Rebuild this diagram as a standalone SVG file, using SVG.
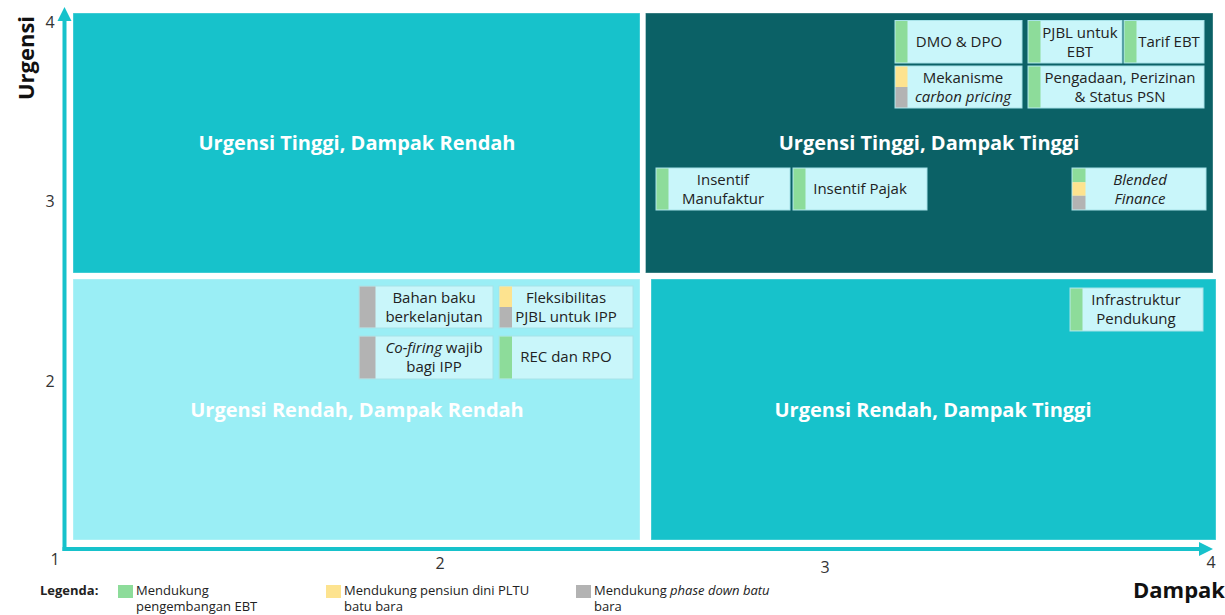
<svg xmlns="http://www.w3.org/2000/svg" width="1225" height="615" viewBox="0 0 1225 615">
<style>
text{font-family:"Open Sans","Noto Sans",sans-serif;}
.q{stroke:#ffffff;stroke-opacity:0.35;stroke-width:1}
.ql{font-weight:bold;font-size:20px;fill:#ffffff;text-anchor:middle}
.box{fill:#c9f6fa;stroke:#a6e2e8;stroke-width:1}
.t{font-size:15px;fill:#222;text-anchor:middle}
.g{fill:#8ddc9a}.y{fill:#fde38f}.k{fill:#b3b3b3}
.tick{font-size:16px;fill:#333;text-anchor:middle}
.ax{font-weight:bold;font-size:22px;fill:#111}
.lg{font-size:13px;fill:#222}
</style>
<rect width="1225" height="615" fill="#ffffff"/>
<g id="quadrant-tl"><rect class="q" x="73" y="13" width="567" height="260" fill="#17c2cb"/><text class="ql" x="357" y="150">Urgensi Tinggi, Dampak Rendah</text></g>
<g id="quadrant-tr"><rect class="q" x="645.5" y="13" width="567.5" height="260" fill="#0b6166"/><text class="ql" x="929" y="150">Urgensi Tinggi, Dampak Tinggi</text></g>
<g id="quadrant-bl"><rect class="q" x="73" y="279" width="567" height="261" fill="#9aeef5"/><text class="ql" x="357" y="417">Urgensi Rendah, Dampak Rendah</text></g>
<g id="quadrant-br"><rect class="q" x="651" y="279" width="565" height="261" fill="#17c2cb"/><text class="ql" x="933" y="417">Urgensi Rendah, Dampak Tinggi</text></g>

<g id="dmo"><rect class="box" x="895" y="20.5" width="127" height="42.5"/><rect class="g" x="895.5" y="21" width="12" height="41.5"/><text class="t" x="959" y="47">DMO &amp; DPO</text></g>
<g id="pjbl-ebt"><rect class="box" x="1028" y="20.5" width="94" height="42.5"/><rect class="g" x="1028.5" y="21" width="12" height="41.5"/><text class="t" x="1080" y="38">PJBL untuk</text><text class="t" x="1080" y="57">EBT</text></g>
<g id="tarif"><rect class="box" x="1124" y="20.5" width="80" height="42.5"/><rect class="g" x="1124.5" y="21" width="12" height="41.5"/><text class="t" x="1169" y="47">Tarif EBT</text></g>
<g id="carbon"><rect class="box" x="895" y="66" width="127" height="42"/><rect class="y" x="895.5" y="66.5" width="12" height="20.5"/><rect class="k" x="895.5" y="87" width="12" height="20.5"/><text class="t" x="963" y="83">Mekanisme</text><text class="t" x="963" y="102" font-style="italic">carbon pricing</text></g>
<g id="pengadaan"><rect class="box" x="1028" y="66" width="176" height="42"/><rect class="g" x="1028.5" y="66.5" width="12" height="41"/><text class="t" x="1120" y="83">Pengadaan, Perizinan</text><text class="t" x="1120" y="102">&amp; Status PSN</text></g>
<g id="manufaktur"><rect class="box" x="656" y="168" width="134" height="42"/><rect class="g" x="656.5" y="168.5" width="12" height="41"/><text class="t" x="723" y="185">Insentif</text><text class="t" x="723" y="204">Manufaktur</text></g>
<g id="pajak"><rect class="box" x="793" y="168" width="134" height="42"/><rect class="g" x="793.5" y="168.5" width="12" height="41"/><text class="t" x="860" y="194">Insentif Pajak</text></g>
<g id="blended"><rect class="box" x="1072" y="168" width="134" height="42"/><rect class="g" x="1072.5" y="168.5" width="13" height="13.7"/><rect class="y" x="1072.5" y="182.2" width="13" height="13.6"/><rect class="k" x="1072.5" y="195.8" width="13" height="13.7"/><text class="t" x="1140" y="185" font-style="italic">Blended</text><text class="t" x="1140" y="204" font-style="italic">Finance</text></g>
<g id="infra"><rect class="box" x="1070" y="288" width="133" height="43"/><rect class="g" x="1070.5" y="288.5" width="12" height="42"/><text class="t" x="1136" y="305">Infrastruktur</text><text class="t" x="1136" y="324">Pendukung</text></g>
<g id="bahan"><rect class="box" x="359" y="286" width="134" height="42"/><rect class="k" x="359.5" y="286.5" width="16" height="41"/><text class="t" x="434" y="303">Bahan baku</text><text class="t" x="434" y="322">berkelanjutan</text></g>
<g id="fleksibilitas"><rect class="box" x="499" y="286" width="134" height="42"/><rect class="y" x="499.5" y="286.5" width="12.5" height="20.5"/><rect class="k" x="499.5" y="307" width="12.5" height="20.5"/><text class="t" x="566" y="303">Fleksibilitas</text><text class="t" x="566" y="322">PJBL untuk IPP</text></g>
<g id="cofiring"><rect class="box" x="359" y="336" width="134" height="43"/><rect class="k" x="359.5" y="336.5" width="16" height="42"/><text class="t" x="434" y="353"><tspan font-style="italic">Co-firing</tspan> wajib</text><text class="t" x="434" y="372">bagi IPP</text></g>
<g id="rec"><rect class="box" x="499" y="336" width="134" height="43"/><rect class="g" x="499.5" y="336.5" width="12.5" height="42"/><text class="t" x="566" y="362">REC dan RPO</text></g>

<g id="axes">
<line x1="64.5" y1="551" x2="64.5" y2="20" stroke="#17c2cb" stroke-width="4"/>
<polygon points="64.5,7 57.5,21 71.5,21" fill="#17c2cb"/>
<line x1="62.5" y1="549" x2="1200" y2="549" stroke="#17c2cb" stroke-width="4"/>
<polygon points="1213,549 1199,542 1199,556" fill="#17c2cb"/>
</g>
<g id="ticks">
<text class="tick" x="50" y="28">4</text>
<text class="tick" x="50" y="207">3</text>
<text class="tick" x="50" y="387">2</text>
<text class="tick" x="55" y="565">1</text>
<text class="tick" x="440" y="569">2</text>
<text class="tick" x="825" y="573">3</text>
<text class="tick" x="1211" y="568">4</text>
</g>
<text class="ax" transform="translate(34,58) rotate(-90)" text-anchor="middle">Urgensi</text>
<text class="ax" x="1225" y="598" text-anchor="end">Dampak</text>
<g id="legend">
<text class="lg" x="40" y="595" font-weight="bold">Legenda:</text>
<rect class="g" x="118" y="585" width="15" height="13"/>
<text class="lg" x="136" y="595">Mendukung</text><text class="lg" x="136" y="611">pengembangan EBT</text>
<rect class="y" x="326" y="585" width="15" height="13"/>
<text class="lg" x="344" y="595">Mendukung pensiun dini PLTU</text><text class="lg" x="344" y="611">batu bara</text>
<rect class="k" x="576" y="585" width="15" height="13"/>
<text class="lg" x="594" y="595">Mendukung <tspan font-style="italic">phase down batu</tspan></text><text class="lg" x="594" y="611">bara</text>
</g>
</svg>
